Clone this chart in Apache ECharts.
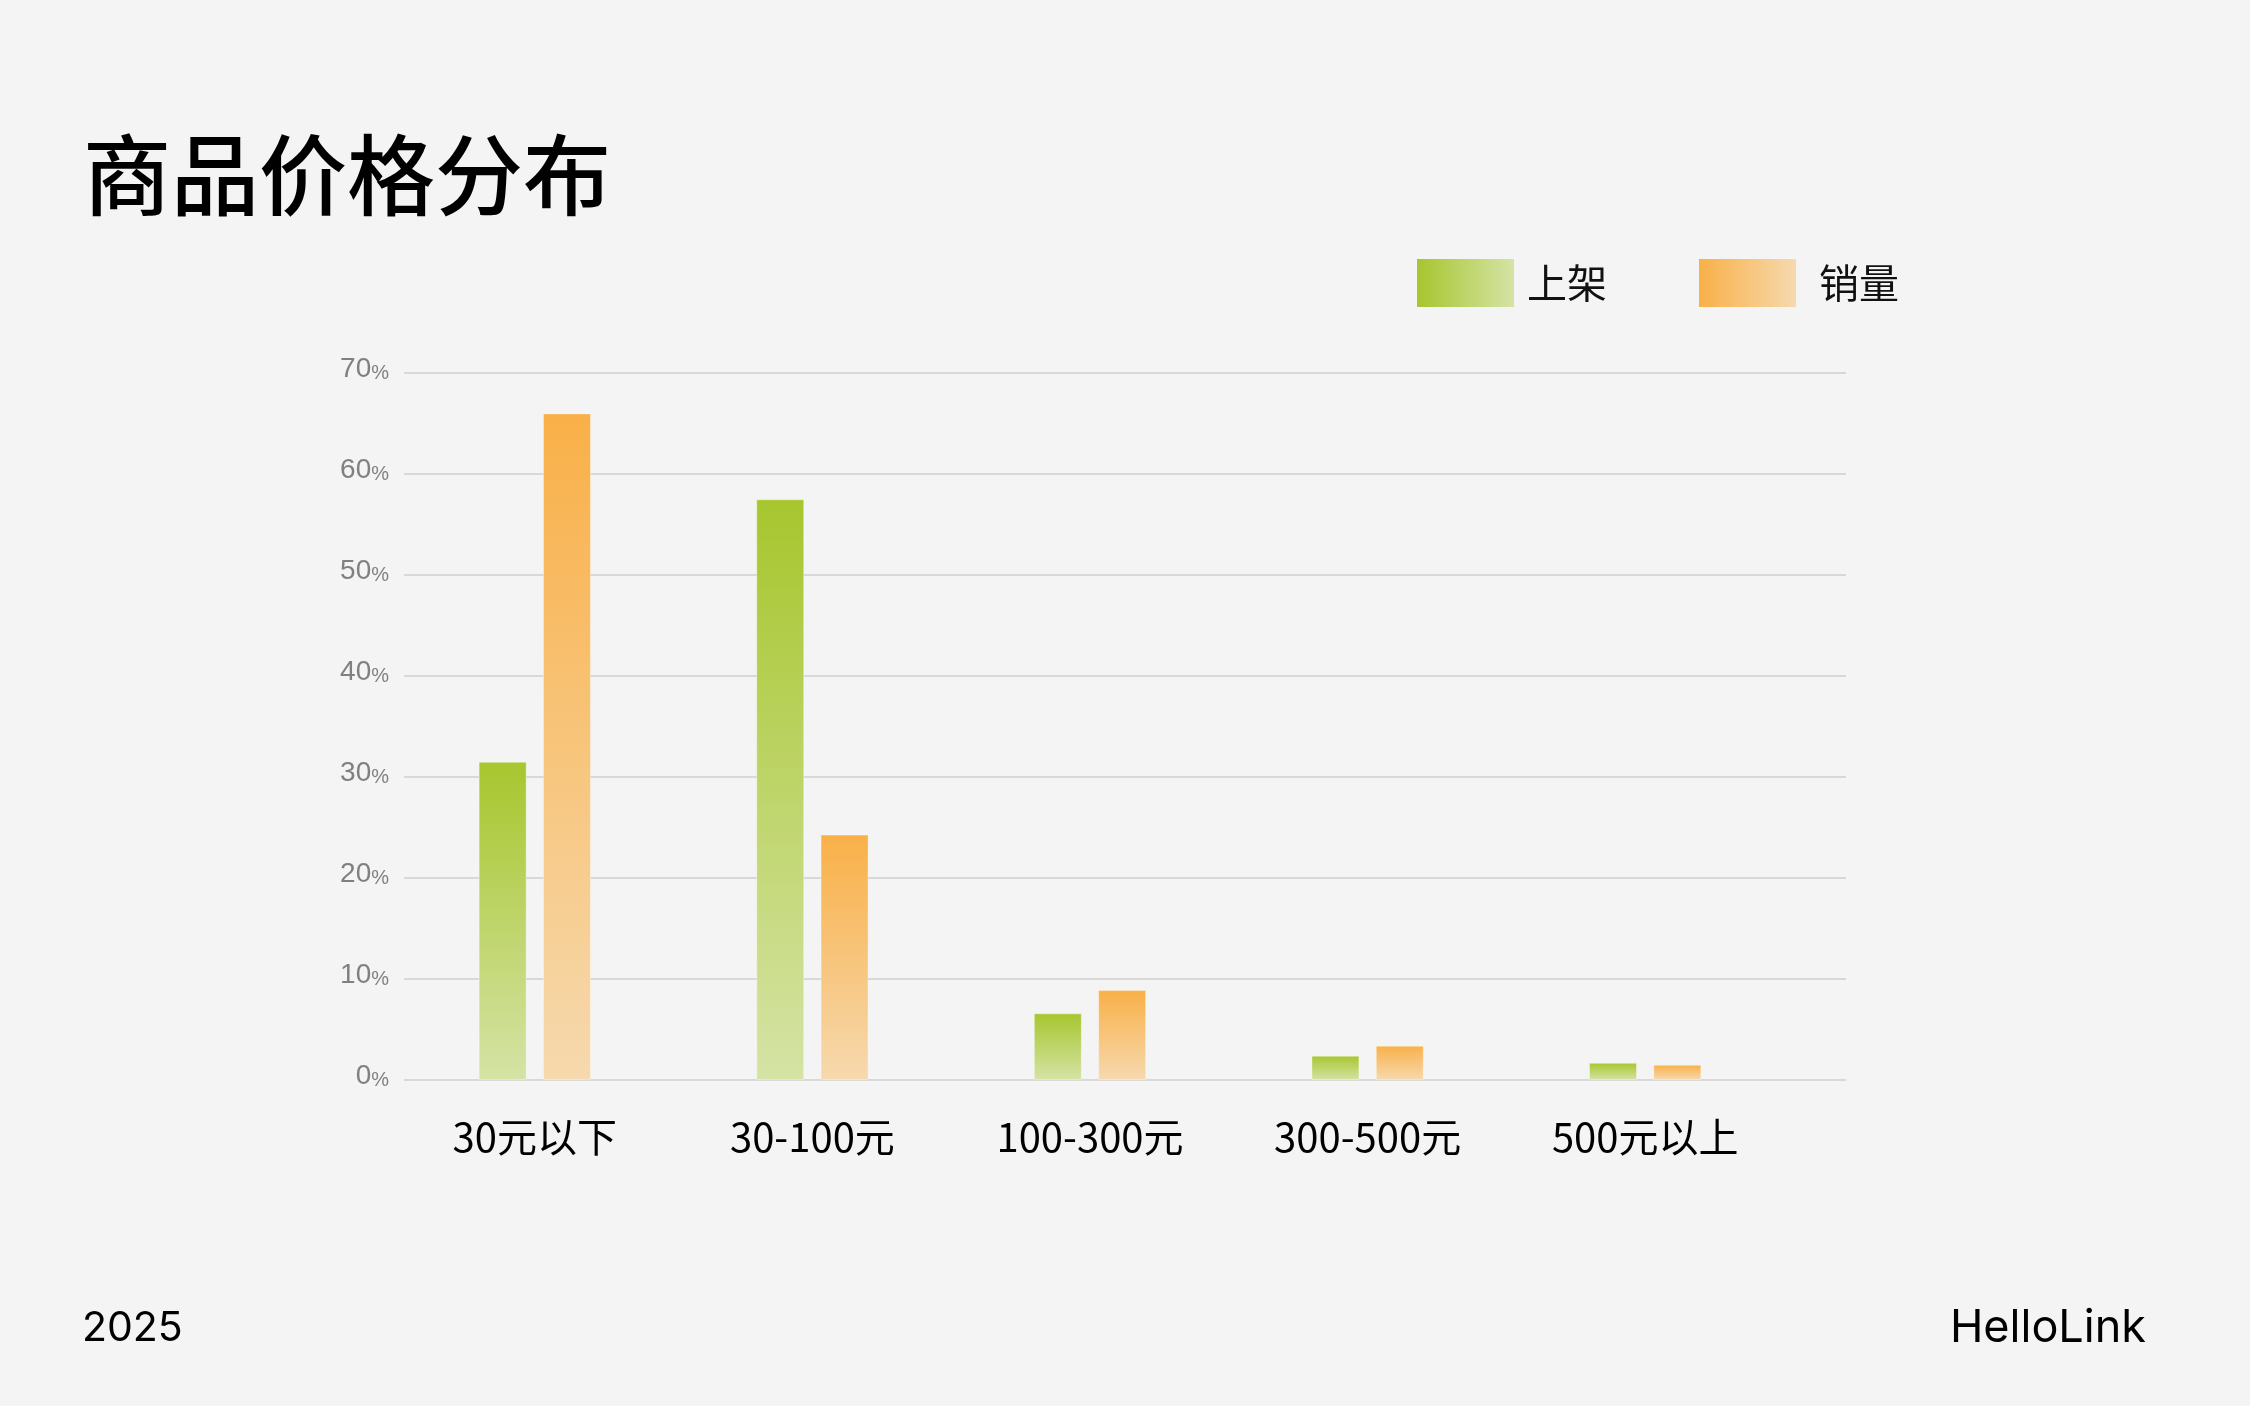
<!DOCTYPE html>
<html>
<head>
<meta charset="utf-8">
<title>商品价格分布</title>
<script src="https://cdn.jsdelivr.net/npm/echarts@6/dist/echarts.min.js"></script>
<style>
  html, body { margin: 0; padding: 0; background: #f4f4f4; }
  #chart { width: 2250px; height: 1406px; }
</style>
</head>
<body>
<div id="chart"></div>
<script>
  // data (percent of total)
  var categories = [ '30元以下', '30-100元', '100-300元', '300-500元', '500元以上' ];
  var listedShare = [ 31.5, 57.5, 6.6, 2.4, 1.7 ];
  var salesShare = [ 66.0, 24.3, 8.9, 3.4, 1.5 ];
  var seriesNames = [ '上架', '销量' ];
  var yMin = 0, yMax = 70, yStep = 10;

  var cjk = '"Noto Sans CJK SC", "Noto Sans", sans-serif';

  function vGrad( top, bottom ) {
    return new echarts.graphic.LinearGradient( 0, 0, 0, 1, [
      { offset: 0, color: top },
      { offset: 1, color: bottom }
    ] );
  }
  function hGrad( left, right ) {
    return new echarts.graphic.LinearGradient( 0, 0, 1, 0, [
      { offset: 0, color: left },
      { offset: 1, color: right }
    ] );
  }

  var green = [ '#a7c62e', '#d5e3a5' ];
  var orange = [ '#f9b048', '#f6d9ae' ];

  var chart = echarts.init( document.getElementById( 'chart' ), null, { renderer: 'canvas' } );

  var option = {
    backgroundColor: '#f4f4f4',
    animation: false,
    title: {
      text: '商品价格分布',
      left: 78,
      top: 126,
      textStyle: {
        fontFamily: cjk,
        fontSize: 88,
        fontWeight: 500,
        color: '#000'
      }
    },
    legend: {
      left: 1412,
      top: 254,
      icon: 'rect',
      itemWidth: 97,
      itemHeight: 48,
      itemGap: 92,
      textStyle: {
        fontFamily: cjk,
        fontSize: 40,
        color: '#111',
        padding: [ 0, 0, 0, 8 ]
      },
      data: [
        { name: seriesNames[0], itemStyle: { color: hGrad( green[0], green[1] ), borderWidth: 0 } },
        {
          name: seriesNames[1],
          itemStyle: { color: hGrad( orange[0], orange[1] ), borderWidth: 0 },
          textStyle: { padding: [ 0, 0, 0, 18 ] }
        }
      ]
    },
    grid: [
      // grid 0 only carries the horizontal rules and y labels
      { left: 404, width: 1442, top: 373, height: 707 },
      // grid 1 carries the bars and category labels
      { left: 396, width: 1388, top: 373, height: 707 }
    ],
    xAxis: [
      { type: 'category', gridIndex: 0, data: categories, show: false },
      {
        type: 'category',
        gridIndex: 1,
        data: categories,
        axisLine: { show: false },
        axisTick: { show: false },
        axisLabel: {
          margin: 37,
          fontFamily: cjk,
          fontSize: 40,
          color: '#000'
        }
      }
    ],
    yAxis: [
      {
        type: 'value',
        gridIndex: 0,
        min: yMin,
        max: yMax,
        interval: yStep,
        axisLine: { show: false },
        axisTick: { show: false },
        splitLine: { lineStyle: { color: '#d8d8d8', width: 2 } },
        axisLabel: {
          margin: 15,
          padding: [ 0, 0, 9, 0 ],
          formatter: function( v ) { return '{n|' + v + '}{p|%}'; },
          rich: {
            n: { fontFamily: '"Liberation Sans", Arial, sans-serif', fontSize: 28, color: '#808080', verticalAlign: 'bottom', lineHeight: 30 },
            p: { fontFamily: '"Liberation Sans", Arial, sans-serif', fontSize: 20, color: '#808080', verticalAlign: 'bottom', lineHeight: 26 }
          }
        }
      },
      {
        type: 'value',
        gridIndex: 1,
        min: yMin,
        max: yMax,
        interval: yStep,
        show: false
      }
    ],
    series: [
      {
        name: seriesNames[0],
        type: 'bar',
        xAxisIndex: 1,
        yAxisIndex: 1,
        barWidth: 48,
        barGap: '34%',
        data: listedShare,
        itemStyle: {
          color: vGrad( green[0], green[1] ),
          borderColor: 'rgba(255,255,255,0.35)',
          borderWidth: 1
        }
      },
      {
        name: seriesNames[1],
        type: 'bar',
        xAxisIndex: 1,
        yAxisIndex: 1,
        barWidth: 48,
        barGap: '34%',
        data: salesShare,
        itemStyle: {
          color: vGrad( orange[0], orange[1] ),
          borderColor: 'rgba(255,255,255,0.35)',
          borderWidth: 1
        }
      }
    ],
    graphic: [
      {
        type: 'text',
        left: 82,
        top: 1308,
        style: { text: '2025', font: '41px Inter, "Noto Sans", sans-serif', fill: '#000' }
      },
      {
        type: 'text',
        right: 104,
        top: 1306,
        style: { text: 'HelloLink', font: '45px Inter, "Noto Sans", sans-serif', fill: '#000' }
      }
    ]
  };

  chart.setOption( option );

  window.addEventListener( 'resize', function() {
    chart.resize();
  } );
</script>
</body>
</html>
